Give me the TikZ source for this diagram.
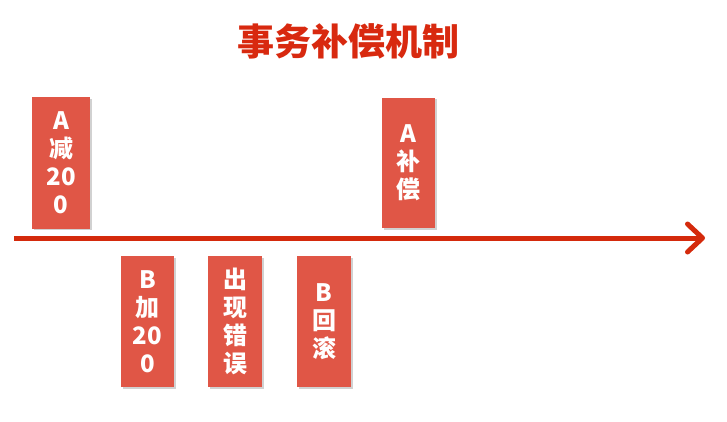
\documentclass[tikz,border=0pt]{standalone}
\usepackage{fontspec}
\newfontfamily\cjk{Noto Sans CJK SC}
\usetikzlibrary{arrows.meta,shadows}
\definecolor{titlered}{HTML}{D8290F}
\definecolor{arrowred}{HTML}{D42A0C}
\definecolor{boxred}{HTML}{E05646}
\tikzset{
  stepbox/.style={draw=none, fill=boxred, minimum width=56pt, minimum height=131pt,
    inner sep=0pt, text=white, font=\cjk\bfseries\fontsize{24}{28}\selectfont,
    align=center, drop shadow={shadow xshift=1.5pt, shadow yshift=-1.5pt, fill=black!30, opacity=0.6}},
  timeline/.style={draw=arrowred, line width=5pt,
    -{Straight Barb[length=15pt, width=28pt, line width=5pt, round]}}
}
\begin{document}
\begin{tikzpicture}[x=1pt,y=-1pt]
\useasboundingbox (0,0) rectangle (727,422);
\node (title) at (348,41) [text=titlered, font=\cjk\bfseries\fontsize{37}{42}\selectfont] {事务补偿机制};
\coordinate (start) at (14,238);
\coordinate (end) at (705,238);
\draw[timeline] (start) -- (end);
\node[stepbox, minimum width=58pt, minimum height=131pt] (a1) at (61,163) {A\\减\\20\\0};
\node[stepbox, minimum width=53pt] (b1) at (147.5,321.5) {B\\加\\20\\0};
\node[stepbox, minimum width=54pt] (err) at (235,321.5) {出\\现\\错\\误};
\node[stepbox, minimum width=54pt] (b2) at (324,321.5) {B\\回\\滚};
\node[stepbox, minimum width=53pt, minimum height=130pt] (a2) at (408.5,163) {A\\补\\偿};
\end{tikzpicture}
\end{document}
